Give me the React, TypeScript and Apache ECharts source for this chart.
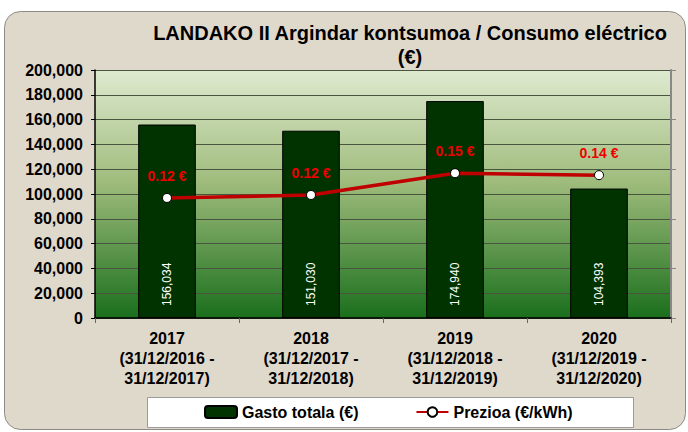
import React, { useEffect, useRef } from "react";
import * as echarts from "echarts";

const categories = [
  "2017\n(31/12/2016 -\n31/12/2017)",
  "2018\n(31/12/2017 -\n31/12/2018)",
  "2019\n(31/12/2018 -\n31/12/2019)",
  "2020\n(31/12/2019 -\n31/12/2020)",
];
const gastoTotala = [156034, 151030, 174940, 104393];
const prezioa = [0.121, 0.124, 0.146, 0.144];

const FONT = "'Liberation Sans', Arial, sans-serif";

export default function App() {
  const ref = useRef<HTMLDivElement>(null);
  useEffect(() => {
    if (!ref.current) return;
    const chart = echarts.init(ref.current, undefined, { renderer: "svg" });
    const fmt = (v: number) => v.toLocaleString("en-US");
    chart.setOption({
      animation: false,
      backgroundColor: "#ffffff",
      textStyle: { fontFamily: FONT },
      graphic: [
        {
          type: "rect",
          z: -10,
          silent: true,
          shape: { x: 4.5, y: 11.5, width: 681, height: 418, r: 16 },
          style: { fill: "#dfd9cc", stroke: "#8c8a84", lineWidth: 1 },
        },
        {
          type: "rect",
          z: -5,
          silent: true,
          shape: { x: 147.5, y: 397.5, width: 486, height: 30 },
          style: { fill: "#ffffff", stroke: "#9a9a9a", lineWidth: 1 },
        },
      ],
      title: {
        text: "LANDAKO II Argindar kontsumoa / Consumo eléctrico\n(€)",
        left: 410,
        top: 21,
        textAlign: "center",
        padding: 0,
        textStyle: {
          fontFamily: FONT,
          fontSize: 20,
          fontWeight: "bold",
          color: "#000",
          lineHeight: 24,
        },
      },
      legend: {
        left: 204,
        top: 404,
        padding: 0,
        itemWidth: 32,
        itemHeight: 12,
        itemGap: 57,
        textStyle: { fontFamily: FONT, fontSize: 16, fontWeight: "bold", color: "#000" },
        data: ["Gasto totala (€)", "Prezioa (€/kWh)"],
      },
      grid: {
        left: 95,
        right: 17,
        top: 70,
        bottom: 114,
        show: true,
        borderWidth: 0,
        backgroundColor: {
          type: "linear",
          x: 0,
          y: 0,
          x2: 0,
          y2: 1,
          colorStops: [
            { offset: 0, color: "#dfead0" },
            { offset: 0.45, color: "#9fbc7c" },
            { offset: 1, color: "#1a6f1c" },
          ],
        },
      },
      xAxis: {
        type: "category",
        data: categories,
        axisLine: { lineStyle: { color: "#000", width: 1.5 } },
        axisTick: { show: true, length: 5, lineStyle: { color: "#666" } },
        axisLabel: {
          interval: 0,
          margin: 10,
          fontFamily: FONT,
          fontSize: 16,
          fontWeight: "bold",
          color: "#000",
          lineHeight: 20,
        },
      },
      yAxis: [
        {
          type: "value",
          min: 0,
          max: 200000,
          interval: 20000,
          axisLine: { show: true, lineStyle: { color: "#000", width: 1.5 } },
          axisTick: { show: true, length: 4, lineStyle: { color: "#000" } },
          splitLine: { lineStyle: { color: "#4a5540", width: 1 } },
          axisLabel: {
            margin: 12,
            fontFamily: FONT,
            fontSize: 16,
            fontWeight: "bold",
            color: "#000",
            formatter: (v: number) => fmt(v),
          },
        },
        {
          type: "value",
          min: 0,
          max: 0.25,
          interval: 0.05,
          position: "right",
          axisLine: { show: true, lineStyle: { color: "#888", width: 2 } },
          axisTick: { show: true, length: 5, lineStyle: { color: "#888" } },
          axisLabel: { show: false },
          splitLine: { show: false },
        },
      ],
      series: [
        {
          name: "Gasto totala (€)",
          type: "bar",
          data: gastoTotala,
          barWidth: "40%",
          itemStyle: { color: "#003300", borderColor: "#000", borderWidth: 1 },
          label: {
            show: true,
            position: "insideBottom",
            rotate: 90,
            align: "left",
            verticalAlign: "middle",
            distance: 12,
            fontFamily: FONT,
            fontSize: 12,
            color: "#fff",
            formatter: (p: any) => fmt(p.value),
          },
          z: 3,
        },
        {
          name: "Prezioa (€/kWh)",
          type: "line",
          yAxisIndex: 1,
          data: prezioa,
          symbol: "circle",
          symbolSize: 9,
          lineStyle: { color: "#c00000", width: 3.5 },
          itemStyle: { color: "#fff", borderColor: "#000", borderWidth: 1 },
          label: {
            show: true,
            position: "top",
            distance: 10,
            fontFamily: FONT,
            fontSize: 14,
            fontWeight: "bold",
            color: "#ee0000",
            formatter: (p: any) => p.value.toFixed(2) + " €",
          },
          z: 5,
        },
      ],
    });
    return () => chart.dispose();
  }, []);
  return <div ref={ref} style={{ width: 688, height: 432, position: "absolute", left: 0, top: 0 }} />;
}
